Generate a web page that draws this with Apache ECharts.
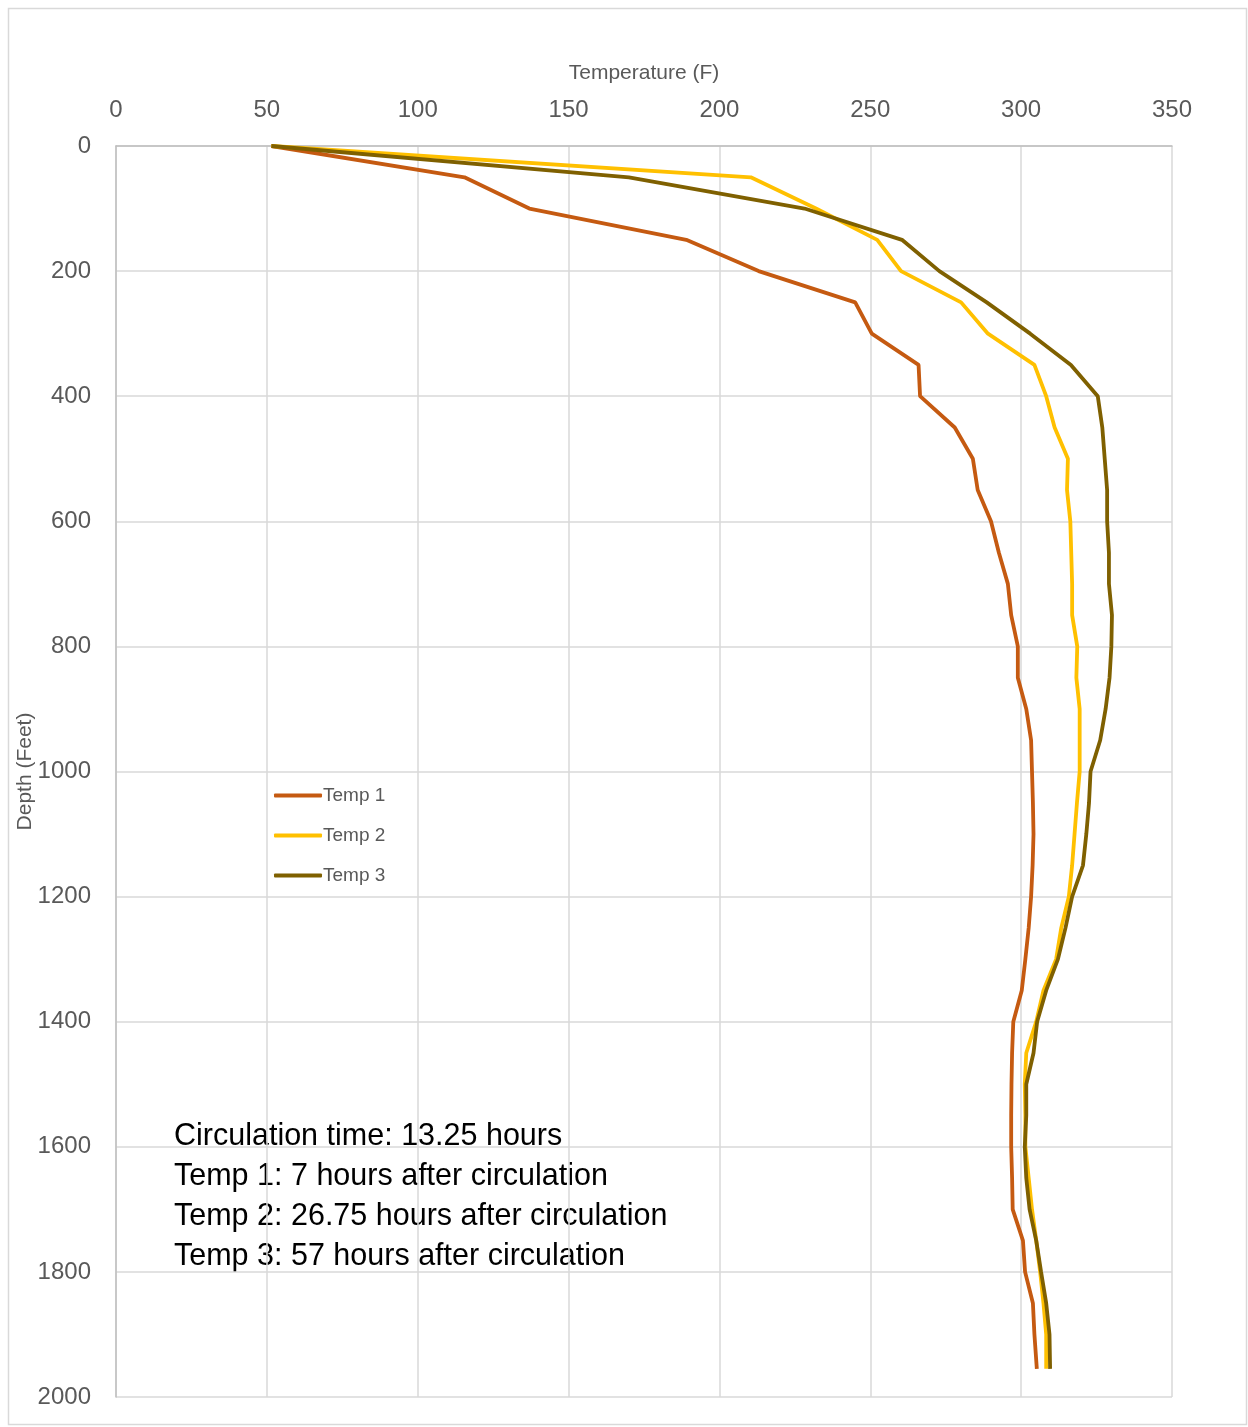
<!DOCTYPE html>
<html>
<head>
<meta charset="utf-8">
<script src="https://cdn.jsdelivr.net/npm/echarts@6/dist/echarts.min.js"></script>
<style>
html,body{margin:0;padding:0;background:#fff;}
#c{width:1248px;height:1427px;}
</style>
</head>
<body>
<div id="c"></div>
<script>
const depths = [0,50,100,150,200,250,300,350,400,450,500,550,600,650,700,750,800,850,900,950,1000,1050,1100,1150,1200,1250,1300,1350,1400,1450,1500,1550,1600,1650,1700,1750,1800,1850,1900,1955];
const temp1 = [51.5,115.5,137,189,213,245,250.5,266,266.5,278,284,285.6,290,292.6,295.6,296.7,298.9,298.9,301.7,303.3,303.6,303.9,304.1,303.8,303.3,302.5,301.4,300.2,297.4,297,296.8,296.7,296.7,297,297.2,300.6,301.3,303.9,304.4,305.2];
const temp2 = [51.5,210.4,232,252.3,260.2,280.1,289,304.4,308.3,311.1,315.5,315.2,316.3,316.6,316.9,316.9,318.6,318.3,319.4,319.4,319.4,318.5,317.7,316.9,315.8,313.3,311.6,307.4,305,301.7,301.2,301.4,301.4,302.5,303.6,305,306.3,307.4,308.3,308.3];
const temp3 = [51.5,170,228.2,260.5,272.9,288.6,303,316.5,325.4,326.9,327.7,328.5,328.5,329.1,329.1,330.1,329.9,329.3,328,326.2,323,322.5,321.6,320.5,316.9,314.7,312.2,308.3,305.3,304.1,301.7,301.7,301.2,301.7,302.8,305,306.6,308.3,309.4,309.6];
const seriesNames = ['Temp 1','Temp 2','Temp 3'];
const notes = ['Circulation time: 13.25 hours','Temp 1: 7 hours after circulation','Temp 2: 26.75 hours after circulation','Temp 3: 57 hours after circulation'];

const colors = ['#C55A11','#FFC000','#7F6000'];
const font = 'Liberation Sans, Arial, sans-serif';
function pairs(t){ return t.map((v,i)=>[v, depths[i]]); }

const chart = echarts.init(document.getElementById('c'), null, {renderer:'canvas'});
chart.setOption({
  animation:false,
  backgroundColor:'#fff',
  textStyle:{fontFamily:font},
  grid:{left:116, top:146, width:1056, height:1251, containLabel:false, outerBoundsMode:'none'},
  xAxis:{
    type:'value', position:'top', min:0, max:350, interval:50,
    name:'Temperature (F)', nameLocation:'middle', nameGap:62,
    nameTextStyle:{color:'#595959', fontSize:21, fontFamily:font},
    axisLine:{show:true, onZero:false, lineStyle:{color:'#BFBFBF', width:1.5}},
    axisTick:{show:false},
    axisLabel:{color:'#595959', fontSize:24, margin:24, fontFamily:font},
    splitLine:{show:true, lineStyle:{color:'#D9D9D9', width:1.5}}
  },
  yAxis:{
    type:'value', inverse:true, min:0, max:2000, interval:200,
    name:'Depth (Feet)', nameLocation:'middle', nameGap:80, nameRotate:90, nameMoveOverlap:false,
    nameTextStyle:{color:'#595959', fontSize:21, fontFamily:font},
    axisLine:{show:true, onZero:false, lineStyle:{color:'#BFBFBF', width:1.5}},
    axisTick:{show:false},
    axisLabel:{color:'#595959', fontSize:24, margin:25, fontFamily:font, formatter:(v)=>String(v)},
    splitLine:{show:true, lineStyle:{color:'#D9D9D9', width:1.5}}
  },
  legend:{
    orient:'vertical', left:269, top:781,
    icon:'roundRect', itemWidth:48, itemHeight:4, itemGap:21,
    textStyle:{color:'#595959', fontSize:19, fontFamily:font, padding:[0,0,0,-4]},
    data:seriesNames
  },
  series:[temp1,temp2,temp3].map((t,i)=>({
    name:seriesNames[i], type:'line', data:pairs(t), symbol:'none',
    lineStyle:{color:colors[i], width:3.8}, itemStyle:{color:colors[i]}
  })),
  graphic:[
    {type:'rect', left:6, top:6, shape:{width:1238, height:1416}, style:{fill:null, stroke:'#D9D9D9', lineWidth:1.5}, silent:true, z:-1},
    {type:'text', left:174, top:1116, style:{text:notes.join('\n'), fill:'#000', fontSize:30.5, lineHeight:40.3, fontFamily:font}}
  ]
});
</script>
</body>
</html>
